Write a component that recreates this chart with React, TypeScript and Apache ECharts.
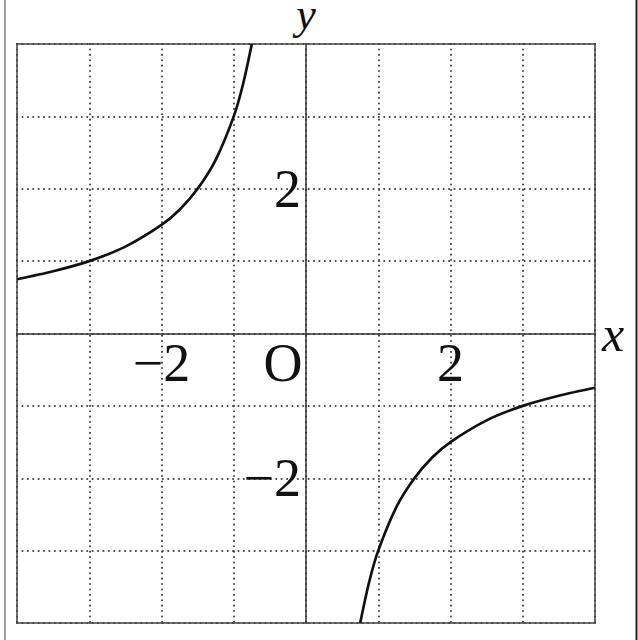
import React, { useEffect, useRef } from "react";
import * as echarts from "echarts";

// Points (left branch, upper-left quadrant)
const leftX = [-4, -3.5, -3, -2.5, -2, -1.75, -1.5, -1.25, -1, -0.875, -0.75];
const leftY = [0.75, 0.86, 1, 1.2, 1.5, 1.71, 2, 2.4, 3, 3.43, 4];
// Points (right branch, lower-right quadrant)
const rightX = [0.75, 0.875, 1, 1.25, 1.5, 1.75, 2, 2.5, 3, 3.5, 4];
const rightY = [-4, -3.43, -3, -2.4, -2, -1.71, -1.5, -1.2, -1, -0.86, -0.75];

// Axis ranges and tick labels
const axisMin = -4;
const axisMax = 4;
const axisStep = 1;
const xTickLabels: Record<string, string> = { "-2": "\u22122", "0": "{o|O}", "2": "2" };
const yTickLabels: Record<string, string> = { "-2": "\u22122", "2": "2" };
const xName = "x";
const yName = "y";

const FONT = "Liberation Serif";
const FS = 54;

export default function App() {
  const ref = useRef<HTMLDivElement>(null);
  useEffect(() => {
    if (!ref.current) return;
    const chart = echarts.init(ref.current, undefined, { renderer: "svg" });
    const left = leftX.map((x, i) => [x, leftY[i]]);
    const right = rightX.map((x, i) => [x, rightY[i]]);
    const gridLine = { lineStyle: { type: [0.1, 5.3], color: "#444", width: 2, cap: "round" } };
    chart.setOption({
      animation: false,
      backgroundColor: "#fff",
      grid: {
        left: 17,
        right: 43,
        top: 44,
        bottom: 17,
        containLabel: false,
        outerBoundsMode: "none",
        show: true,
        borderColor: "#444",
        borderWidth: 1.5,
        backgroundColor: "transparent",
      },
      xAxis: {
        type: "value",
        position: "bottom",
        min: axisMin,
        max: axisMax,
        interval: axisStep,
        name: xName,
        nameLocation: "end",
        nameGap: 7,
        nameTextStyle: { fontFamily: FONT, fontStyle: "italic", fontSize: 50, color: "#111", verticalAlign: "middle" },
        axisLine: { onZero: false, lineStyle: { color: "#333", width: 1.5 } },
        axisTick: { show: false },
        splitLine: { show: true, ...gridLine },
        axisLabel: {
          margin: 2,
          fontFamily: FONT,
          fontSize: FS,
          color: "#111",
          showMinLabel: true,
          showMaxLabel: true,
          formatter: (v: number) => xTickLabels[String(v)] ?? "",
          rich: { o: { fontFamily: FONT, fontSize: FS, color: "#111", padding: [0, 46, 0, 0] } },
        },
      },
      yAxis: {
        type: "value",
        position: "left",
        min: axisMin,
        max: axisMax,
        interval: axisStep,
        name: yName,
        nameLocation: "end",
        nameGap: 8,
        nameTextStyle: { fontFamily: FONT, fontStyle: "italic", fontSize: 44, lineHeight: 44, color: "#111", align: "center" },
        axisLine: { onZero: false, lineStyle: { color: "#333", width: 1.5 } },
        axisTick: { show: false },
        splitLine: { show: true, ...gridLine },
        axisLabel: {
          margin: 5,
          fontFamily: FONT,
          fontSize: FS,
          color: "#111",
          formatter: (v: number) => yTickLabels[String(v)] ?? "",
        },
      },
      series: [
        {
          type: "line",
          data: left,
          smooth: 0.3,
          showSymbol: false,
          symbol: "none",
          clip: true,
          lineStyle: { color: "#111", width: 2.7 },
        },
        {
          type: "line",
          data: right,
          smooth: 0.3,
          showSymbol: false,
          symbol: "none",
          clip: true,
          lineStyle: { color: "#111", width: 2.7 },
        },
      ],
      graphic: [
        { type: "line", shape: { x1: 5, y1: 0, x2: 5, y2: 640 }, style: { stroke: "#888", lineWidth: 1.6 } },
        { type: "line", shape: { x1: 636.5, y1: 0, x2: 636.5, y2: 640 }, style: { stroke: "#222", lineWidth: 2 } },
      ],
    });
    // Move both axes (line, labels, name) onto the origin, using the library's own scales
    const zeroX = chart.convertToPixel({ xAxisIndex: 0 }, 0) as number;
    const minX = chart.convertToPixel({ xAxisIndex: 0 }, axisMin) as number;
    const zeroY = chart.convertToPixel({ yAxisIndex: 0 }, 0) as number;
    const minY = chart.convertToPixel({ yAxisIndex: 0 }, axisMin) as number;
    chart.setOption({
      xAxis: { offset: zeroY - minY },
      yAxis: { offset: minX - zeroX },
    });
    return () => chart.dispose();
  }, []);
  return (
    <div
      ref={ref}
      style={{ position: "fixed", left: 0, top: 0, width: 638, height: 640 }}
    />
  );
}
